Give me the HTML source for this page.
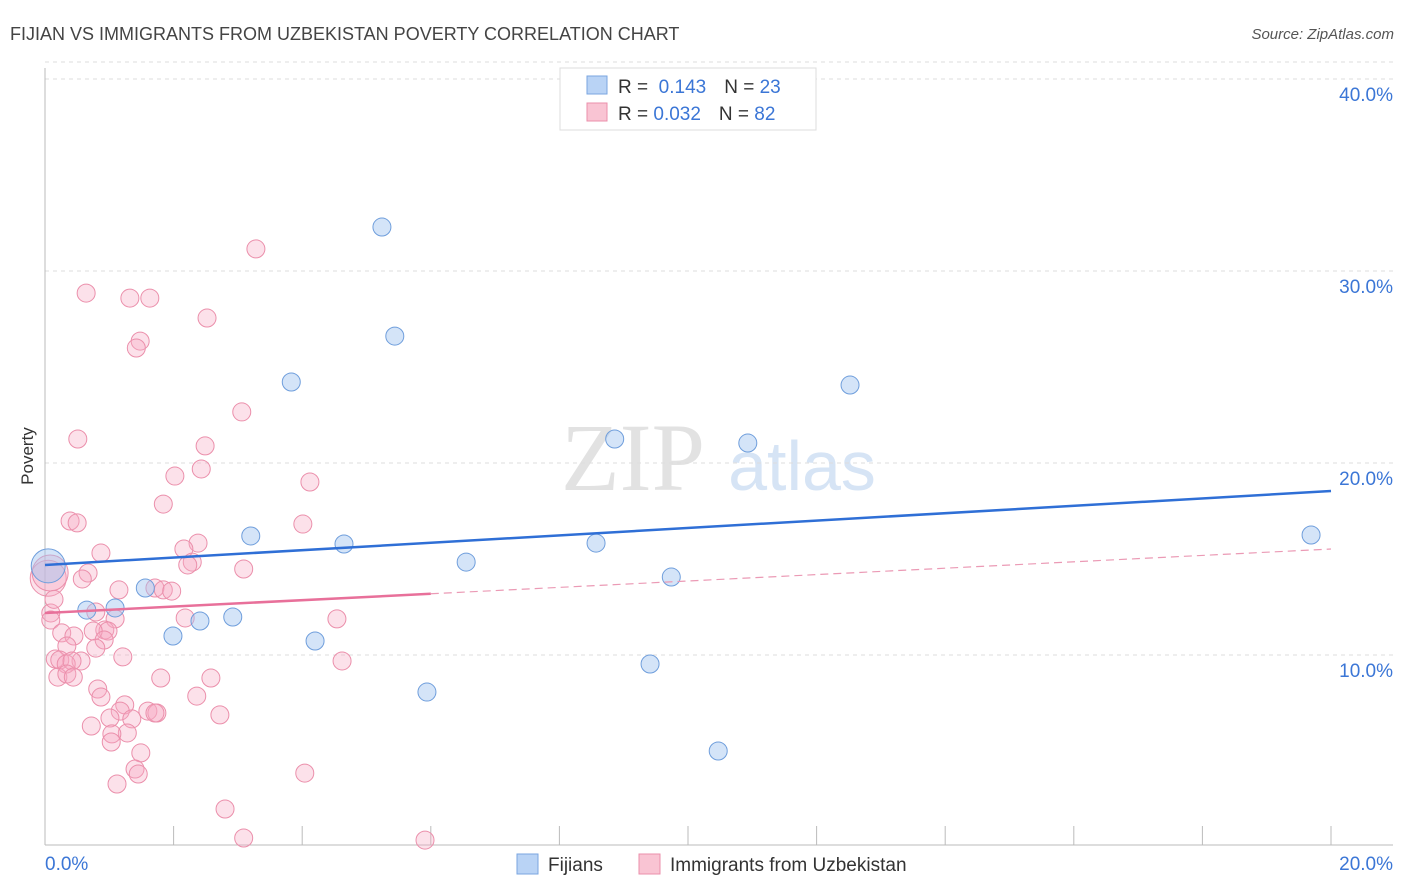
<!DOCTYPE html>
<html><head><meta charset="utf-8"><style>
body{margin:0;background:#fff;font-family:"Liberation Sans",sans-serif}
svg{display:block}
</style></head><body>
<svg id="chart" width="1406" height="892">
<text x="10" y="40" font-size="18" fill="#444">FIJIAN VS IMMIGRANTS FROM UZBEKISTAN POVERTY CORRELATION CHART</text>
<text x="1394" y="39" font-size="15" fill="#555" font-style="italic" text-anchor="end">Source: ZipAtlas.com</text>
<g>
<text x="633" y="490" font-size="96" font-family="Liberation Serif,serif" fill="#e2e2e2" text-anchor="middle">ZIP</text>
<text x="802" y="490" font-size="70" fill="#d6e4f5" text-anchor="middle">atlas</text>
</g>
<g id="grid"></g>
<g id="axes"></g>
<g id="marks"></g>
<text x="33" y="456" font-size="17" fill="#333" text-anchor="middle" transform="rotate(-90 33 456)">Poverty</text>
<g>
<rect x="560" y="68" width="256" height="62" fill="#fff" stroke="#ddd"/>
<rect x="587" y="76" width="20" height="18" fill="#b9d3f5" stroke="#7aa6e0"/>
<rect x="587" y="103" width="20" height="18" fill="#f9c4d3" stroke="#eb8fab"/>
<text x="618" y="93" font-size="19" fill="#333">R = <tspan fill="#3b76d6">&#160;0.143</tspan><tspan dx="18">N = </tspan><tspan fill="#3b76d6">23</tspan></text>
<text x="618" y="120" font-size="19" fill="#333">R = <tspan fill="#3b76d6">0.032</tspan><tspan dx="18">N = </tspan><tspan fill="#3b76d6">82</tspan></text>
</g>
<g>
<rect x="517" y="854" width="21" height="20" fill="#b9d3f5" stroke="#7aa6e0"/>
<text x="548" y="871" font-size="19" fill="#333">Fijians</text>
<rect x="639" y="854" width="21" height="20" fill="#f9c4d3" stroke="#eb8fab"/>
<text x="670" y="871" font-size="19" fill="#333">Immigrants from Uzbekistan</text>
</g>
</svg>
<script>
const yTicks=[10,20,30,40];
const yTickLabels=["10.0%","20.0%","30.0%","40.0%"];
const xTickLabels=["0.0%","20.0%"];
const fijiX=[5.24,5.44,3.83,12.52,8.86,10.93,3.2,4.65,8.57,6.55,9.74,19.69,1.56,0.65,1.09,2.41,2.92,1.99,4.2,9.41,5.94,10.47,0.05];
const fijiY=[32.29,26.61,24.22,24.06,21.25,21.04,16.2,15.78,15.83,14.84,14.06,16.25,13.49,12.34,12.45,11.77,11.98,10.99,10.73,9.53,8.07,5.0,14.64];
const uzbX=[3.28,0.64,1.32,1.63,2.52,1.48,1.42,3.06,0.51,2.49,2.43,2.02,4.12,1.84,0.39,0.5,4.01,2.38,0.87,2.16,2.29,2.22,3.09,0.67,0.58,1.71,1.84,1.97,1.15,0.09,0.09,2.18,4.54,1.09,0.79,0.93,0.98,0.26,0.75,0.45,0.92,0.34,0.79,0.16,0.23,0.56,0.33,0.42,1.21,4.62,0.2,0.34,0.44,1.8,2.58,0.82,0.87,2.36,1.24,1.17,1.6,1.74,1.71,1.01,2.72,1.35,0.72,1.28,1.04,1.03,1.49,1.4,1.45,4.04,1.12,2.8,3.09,5.91,0.05,0.08,0.14];
const uzbY=[31.15,28.85,28.59,28.59,27.55,26.35,25.99,22.66,21.25,20.89,19.69,19.32,19.01,17.86,16.98,16.88,16.82,15.83,15.31,15.52,14.84,14.69,14.48,14.27,13.96,13.49,13.39,13.33,13.39,12.19,11.82,11.93,11.88,11.88,12.24,11.3,11.25,11.15,11.25,10.99,10.78,10.47,10.36,9.79,9.74,9.69,9.53,9.69,9.9,9.69,8.85,9.01,8.85,8.8,8.8,8.23,7.81,7.86,7.4,7.08,7.08,6.98,6.98,6.72,6.88,6.67,6.3,5.94,5.89,5.47,4.9,4.06,3.8,3.85,3.28,1.98,0.47,0.36,14.0,14.27,12.9];
const fijiTrend=[14.69,18.54];
const uzbTrend=[12.19,15.52];
const uzbSolidEnd=6.0;
const X0=45,X1=1331,Y0=847,PX=192/10;
const sx=v=>X0+(X1-X0)*v/20, sy=v=>Y0-v*PX;
const NS="http://www.w3.org/2000/svg";
function mk(parent,tag,attrs){const e=document.createElementNS(NS,tag);for(const k in attrs)e.setAttribute(k,attrs[k]);document.getElementById(parent).appendChild(e);return e;}
yTicks.forEach((t,i)=>{
 const l=mk('grid','line',{x1:45,x2:1393,y1:sy(t),y2:sy(t),stroke:'#ddd','stroke-dasharray':'4 4'});
 
 
 const tx=mk('grid','text',{x:1393,y:sy(t)+22,'font-size':19,fill:'#3b76d6','text-anchor':'end'});
 tx.textContent=yTickLabels[i];
 
 
});
const gTop=mk('grid','line',{x1:45,x2:1393,y1:sy(40)-17,y2:sy(40)-17,stroke:'#ddd','stroke-dasharray':'4 4'});


const ya=mk('axes','line',{x1:45,x2:45,y1:68,y2:845,stroke:'#bbb'});


const xa=mk('axes','line',{x1:45,x2:1393,y1:845,y2:845,stroke:'#bbb'});


for(let i=0;i<=10;i++){
 const tk=mk('axes','line',{x1:sx(i*2),x2:sx(i*2),y1:826,y2:845,stroke:'#bbb'});
 
 
}
[[0,'start'],[20,'end']].forEach((p,i)=>{
 const tx=mk('axes','text',{x:sx(p[0])+(i?62:0),y:870,'font-size':19,fill:'#3b76d6','text-anchor':p[1]});
 tx.textContent=xTickLabels[i];
 
 
});
uzbX.forEach((x,i)=>{
 const r=i>=78&&i<80?18:9;
 const c=mk('marks','circle',{cx:sx(x),cy:sy(uzbY[i]),r:r,fill:'rgba(247,170,195,0.35)',stroke:'#eb8fab','stroke-width':1});
 
 
});
fijiX.forEach((x,i)=>{
 const r=i==22?17:9;
 const c=mk('marks','circle',{cx:sx(x),cy:sy(fijiY[i]),r:r,fill:'rgba(160,195,240,0.45)',stroke:'#6f9edc','stroke-width':1});
 
 
});
const uMid=uzbTrend[0]+(uzbTrend[1]-uzbTrend[0])*uzbSolidEnd/20;
const t1=mk('marks','line',{x1:sx(0),y1:sy(uzbTrend[0]),x2:sx(uzbSolidEnd),y2:sy(uMid),stroke:'#e8709a','stroke-width':2.5});


const t2=mk('marks','line',{x1:sx(uzbSolidEnd),y1:sy(uMid),x2:sx(20),y2:sy(uzbTrend[1]),stroke:'#eb9ab5','stroke-width':1.2,'stroke-dasharray':'8 5'});


const t3=mk('marks','line',{x1:sx(0),y1:sy(fijiTrend[0]),x2:sx(20),y2:sy(fijiTrend[1]),stroke:'#2f6fd6','stroke-width':2.5});


</script>
</body></html>
